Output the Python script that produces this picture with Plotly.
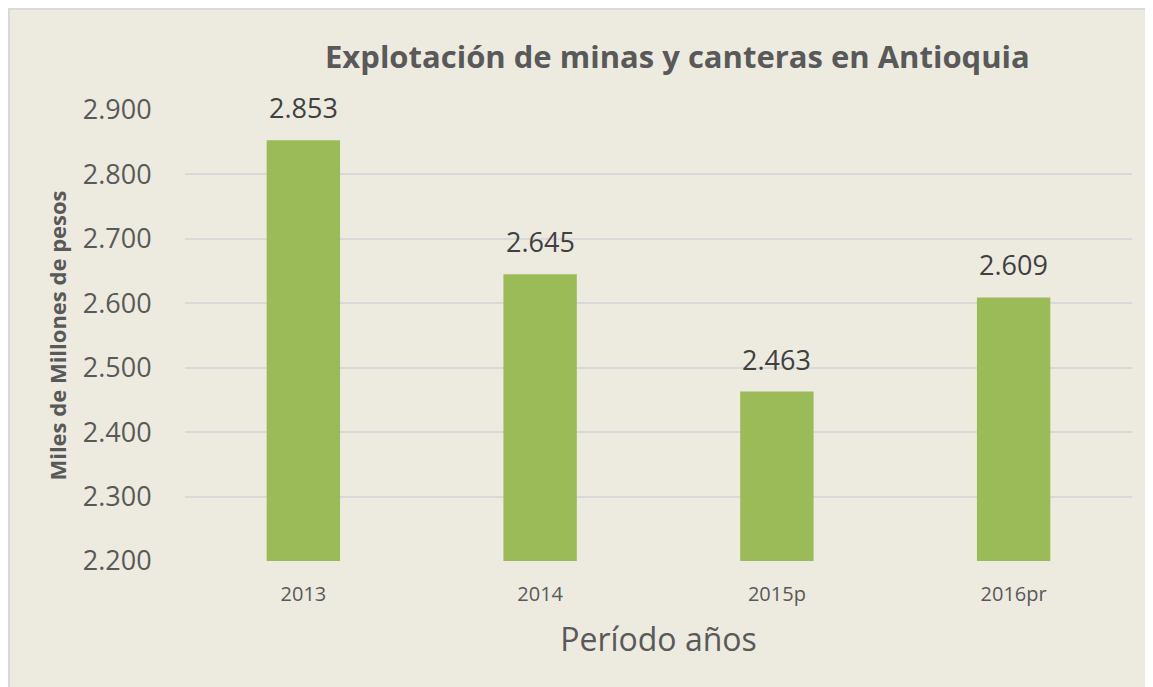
import plotly.graph_objects as go

categories = ["2013", "2014", "2015p", "2016pr"]
values = [2853, 2645, 2463, 2609]
y_ticks = [2200, 2300, 2400, 2500, 2600, 2700, 2800, 2900]

OFF = 8  # page body margin
W, H = 1153 - OFF, 687 - OFF
# target pixel positions in the page
PL, PR, PT, PB = 185, 1132, 110, 561
ML, MR, MT, MB = PL - OFF, W - (PR - OFF), PT - OFF, H - (PB - OFF)
PW, PH = W - ML - MR, H - MT - MB

def px_x(x):
    return (x - OFF - ML) / PW

def px_y(y):
    return 1 - (y - OFF - MT) / PH

FONT = "Open Sans, Liberation Sans, sans-serif"
TXT = "#595959"

def fmt(v):
    return f"{v:,}".replace(",", ".")

fig = go.Figure(go.Bar(
    x=categories, y=values,
    marker=dict(color="#9BBB59", line=dict(width=0)),
    width=0.31,
    cliponaxis=False,
))

# value labels: x given as category index (avoids autorange issues)
annotations = [
    dict(x=i, y=v, text=fmt(v), showarrow=False, yanchor="bottom", yshift=12,
         font=dict(family=FONT, size=27, color="#404040"), xref="x", yref="y")
    for i, v in enumerate(values)
]
annotations.append(dict(
    x=px_x(677), y=px_y(56), xref="paper", yref="paper",
    text="<b>Explotación de minas y canteras en Antioquia</b>",
    showarrow=False, xanchor="center", yanchor="middle",
    font=dict(family=FONT, size=31, color=TXT)))

fig.update_layout(
    width=W, height=H,
    margin=dict(l=ML, r=MR, t=MT, b=MB, pad=0),
    paper_bgcolor="#EDEBE0",
    plot_bgcolor="rgba(0,0,0,0)",
    separators=",.",
    showlegend=False,
    annotations=annotations,
    shapes=[dict(type="rect", xref="paper", yref="paper", layer="below",
                 x0=px_x(9), x1=px_x(1200), y0=px_y(9), y1=px_y(720),
                 fillcolor="#EDEBE0", line=dict(color="#D9D9D9", width=2))],
    xaxis=dict(
        type="category", range=[-0.5, len(categories) - 0.5],
        showgrid=False, showline=False, zeroline=False,
        tickfont=dict(family=FONT, size=20, color=TXT),
        ticks="outside", ticklen=15, tickcolor="rgba(0,0,0,0)",
        title=dict(text="Período años", font=dict(family=FONT, size=32, color=TXT), standoff=22),
    ),
    yaxis=dict(
        range=[2200, 2900], tickvals=y_ticks, tickformat=",d",
        showgrid=True, gridcolor="#D9D9D9", gridwidth=1.5, zeroline=False, showline=False,
        tickfont=dict(family=FONT, size=27, color=TXT),
        ticks="outside", ticklen=27, tickcolor="rgba(0,0,0,0)",
        title=dict(text="<b>Miles de Millones de pesos</b>", font=dict(family=FONT, size=22, color=TXT), standoff=10),
    ),
)

fig.write_html("out.html")
